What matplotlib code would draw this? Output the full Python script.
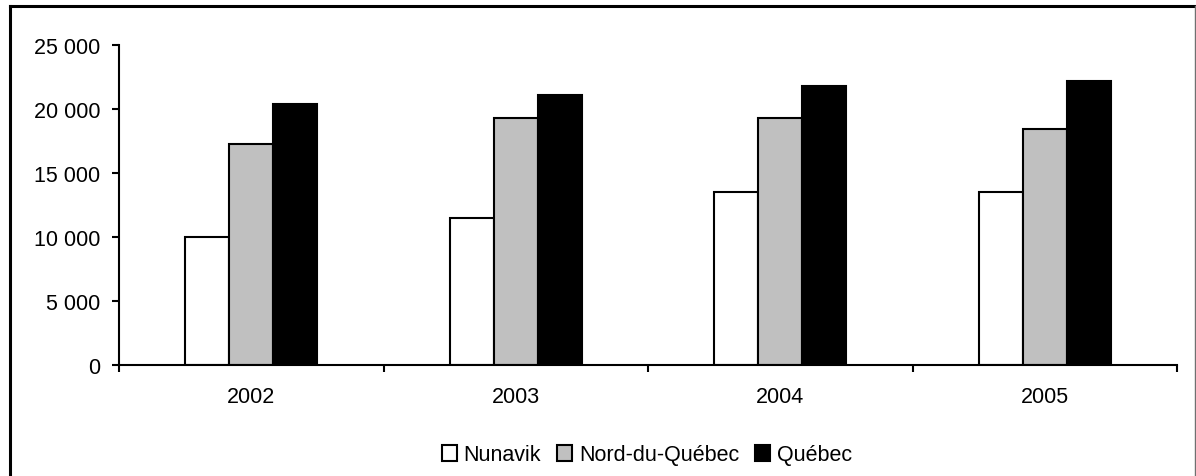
import numpy as np
import matplotlib
matplotlib.use("Agg")
import matplotlib.pyplot as plt
from matplotlib.lines import Line2D
from matplotlib.ticker import FuncFormatter

years = ["2002", "2003", "2004", "2005"]
nunavik = [9960, 11460, 13470, 13470]
nord_du_quebec = [17240, 19250, 19270, 18390]
quebec = [20390, 21050, 21750, 22190]

series_names = ["Nunavik", "Nord-du-Québec", "Québec"]
series_colors = ["white", "#C0C0C0", "black"]

plt.rcParams["font.family"] = ["Liberation Sans", "DejaVu Sans"]
plt.rcParams["font.size"] = 15.5

fig = plt.figure(figsize=(11.96, 4.77), dpi=100)
W, H = 1196, 477
ax = fig.add_axes([119 / W, 111 / H, (1177 - 119) / W, (366 - 45.7) / H])

x = np.arange(len(years))
width = 1 / 6
for i, (vals, name, col) in enumerate(zip([nunavik, nord_du_quebec, quebec], series_names, series_colors)):
    ax.bar(x + (i - 1) * width, vals, width, color=col, edgecolor="black", linewidth=1.5, label=name)

ax.set_xlim(-0.5, len(years) - 0.5)
ax.set_ylim(0, 25000)
ax.set_yticks(range(0, 25001, 5000))
ax.yaxis.set_major_formatter(FuncFormatter(lambda v, p: f"{int(v):,}".replace(",", " ")))
ax.set_xticks(x)
ax.set_xticklabels(years)
ax.set_xticks(np.arange(-0.5, len(years), 1), minor=True)

ax.spines["top"].set_visible(False)
ax.spines["right"].set_visible(False)
ax.spines["left"].set_linewidth(1.5)
ax.spines["bottom"].set_linewidth(1.5)
ax.tick_params(axis="y", direction="out", length=5, width=1.5, pad=8.5)
ax.tick_params(axis="x", which="major", length=0, pad=15)
ax.tick_params(axis="x", which="minor", direction="out", length=5, width=1.5)

ax.legend(loc="center", bbox_to_anchor=(647 / W, 1 - 456 / H), bbox_transform=fig.transFigure,
          ncol=3, frameon=False, handlelength=0.7, handleheight=0.7, handletextpad=0.3,
          columnspacing=0.75, borderpad=0)

# outer chart frame
fig.add_artist(Line2D([10 / W, 10 / W], [0, 1 - 7 / H], color="black", linewidth=2.2, transform=fig.transFigure))
fig.add_artist(Line2D([10 / W, 1195 / W], [1 - 7 / H, 1 - 7 / H], color="black", linewidth=2.2, transform=fig.transFigure))
fig.add_artist(Line2D([1195 / W, 1195 / W], [0, 1 - 7 / H], color="#707070", linewidth=1, transform=fig.transFigure))

fig.savefig("out.png", dpi=100)
